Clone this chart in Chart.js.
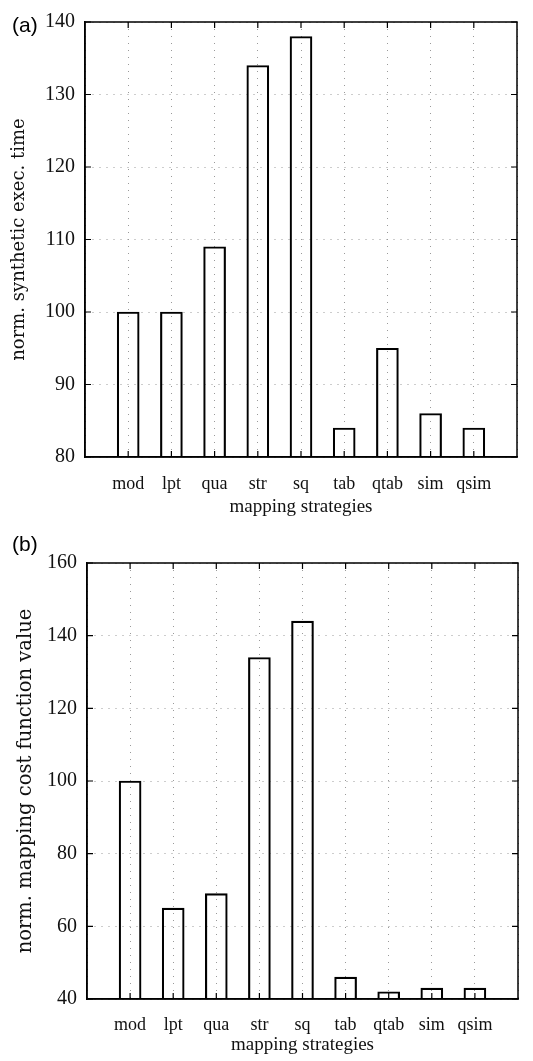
<!DOCTYPE html>
<html>
<head>
<meta charset="utf-8">
<script src="https://cdn.jsdelivr.net/npm/chart.js@4.4.0/dist/chart.umd.min.js"></script>
<style>
  body { margin: 0; background: #fff; }
  canvas { display: block; }
</style>
</head>
<body>
<canvas id="execChart" width="533" height="530"></canvas>
<canvas id="costChart" width="533" height="531"></canvas>
<script>
// data
const strategies = ['mod', 'lpt', 'qua', 'str', 'sq', 'tab', 'qtab', 'sim', 'qsim'];
const execTime = [100, 100, 109, 134, 138, 84, 95, 86, 84];
const mappingCost = [100, 65, 69, 134, 144, 46, 42, 43, 43];
const execRange = [80, 140, 10];
const costRange = [40, 160, 20];

const serif = 'Liberation Serif';

// inward tick marks + top/right frame, like the old gnuplot figure
const framePlugin = {
    id: 'frameTicks',
    afterDatasetsDraw(chart) {
        const { ctx, chartArea: a, scales: { x, y } } = chart;
        ctx.save();
        ctx.strokeStyle = '#000';
        ctx.lineWidth = 1.5;
        ctx.strokeRect(a.left, a.top, a.right - a.left, a.bottom - a.top);
        ctx.lineWidth = 1.2;
        ctx.beginPath();
        for (let i = 1; i <= strategies.length; i++) {
            const px = x.getPixelForValue(i);
            ctx.moveTo(px, a.top); ctx.lineTo(px, a.top + 6);
            ctx.moveTo(px, a.bottom); ctx.lineTo(px, a.bottom - 6);
        }
        y.ticks.forEach(t => {
            const py = y.getPixelForValue(t.value);
            ctx.moveTo(a.left, py); ctx.lineTo(a.left + 6, py);
            ctx.moveTo(a.right, py); ctx.lineTo(a.right - 6, py);
        });
        ctx.stroke();
        ctx.restore();
    }
};

// "(a)" / "(b)" panel labels
const panelPlugin = {
    id: 'panelLabel',
    afterDraw(chart, args, opts) {
        const ctx = chart.ctx;
        ctx.save();
        ctx.fillStyle = '#000';
        ctx.font = '21px "Liberation Sans"';
        ctx.textBaseline = 'middle';
        ctx.textAlign = 'left';
        ctx.fillText(opts.text, opts.x, opts.y);
        ctx.restore();
    }
};

function makeChart(id, values, range, yTitle, lay) {
    const ctx = document.getElementById(id).getContext('2d');
    const canvasH = ctx.canvas.height;

    return new Chart(ctx, {
        type: 'bar',
        data: {
            labels: ['', ...strategies, ''],
            datasets: [{
                data: [null, ...values, null],
                backgroundColor: 'rgba(0,0,0,0)',
                borderColor: '#000',
                borderWidth: 1.5,
                barThickness: 22
            }]
        },
        options: {
            responsive: false,
            animation: false,
            layout: { padding: { top: lay.top, right: 11, left: 0, bottom: 0 } },
            plugins: {
                legend: { display: false },
                tooltip: { enabled: false },
                panelLabel: { text: lay.label, x: 12, y: lay.labelY }
            },
            scales: {
                x: {
                    offset: false,
                    grid: { offset: false, color: '#9a9a9a', drawTicks: false, lineWidth: 1 },
                    border: { color: '#000', width: 1.5, dash: [1, 6] },
                    ticks: {
                        padding: lay.tickPad,
                        color: '#111',
                        font: { family: serif, size: 18 },
                        autoSkip: false,
                        maxRotation: 0
                    },
                    title: {
                        display: true,
                        text: 'mapping strategies',
                        color: '#111',
                        font: { family: serif, size: 19 },
                        padding: { top: 0, bottom: lay.titlePad }
                    },
                    afterFit(scale) { scale.height = canvasH - lay.bottom; }
                },
                y: {
                    min: range[0],
                    max: range[1],
                    grid: { color: '#9a9a9a', drawTicks: false, lineWidth: 1 },
                    border: { color: '#000', width: 1.5, dash: [1, 6] },
                    ticks: {
                        stepSize: range[2],
                        padding: 10,
                        color: '#111',
                        font: { family: serif, size: 20 }
                    },
                    title: {
                        display: true,
                        text: yTitle,
                        color: '#111',
                        font: { family: 'DejaVu Serif', size: lay.yTitleSize },
                        padding: { top: lay.yTitlePad, bottom: 0 }
                    },
                    afterFit(scale) { scale.width = lay.left; }
                }
            }
        },
        plugins: [framePlugin, panelPlugin]
    });
}

makeChart('execChart', execTime, execRange, 'norm. synthetic exec. time',
    { top: 21, bottom: 457, left: 85, tickPad: 16, titlePad: 12, yTitlePad: 9, yTitleSize: 18, label: '(a)', labelY: 26 });

makeChart('costChart', mappingCost, costRange, 'norm. mapping cost function value',
    { top: 33, bottom: 469, left: 87, tickPad: 15, titlePad: 5, yTitlePad: 14, yTitleSize: 19.5, label: '(b)', labelY: 15 });
</script>
</body>
</html>
